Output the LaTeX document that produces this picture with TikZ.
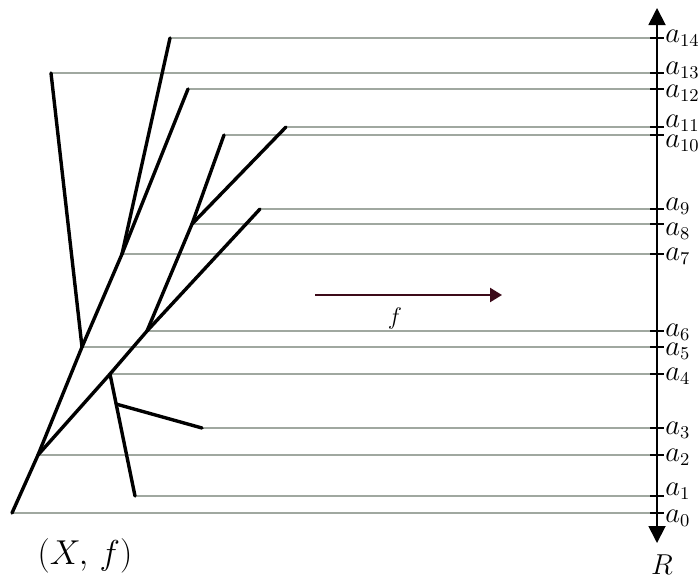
\documentclass[tikz,border=0pt]{standalone}
\usetikzlibrary{arrows.meta}
\definecolor{levelgray}{RGB}{160,168,160}
\definecolor{mapred}{RGB}{60,10,25}
\begin{document}
\begin{tikzpicture}[x=0.5pt, y=-0.5pt,
  branch/.style={line width=1.7pt, line cap=round},
  level/.style={draw=levelgray, line width=0.75pt},
  tickmark/.style={line width=0.9pt},
  lab/.style={anchor=west, inner sep=0pt, font=\fontsize{13.5}{16}\selectfont}]
  \useasboundingbox (0,0) rectangle (699,578);
  \coordinate (v0) at (12,513);
  \coordinate (v1) at (135,496);
  \coordinate (v2) at (38,455);
  \coordinate (v3) at (202,428);
  \coordinate (v4) at (110,374);
  \coordinate (v5) at (82,347);
  \coordinate (v6) at (147,331);
  \coordinate (v7) at (122,254);
  \coordinate (v8) at (192,224);
  \coordinate (v9) at (260,209);
  \coordinate (v10) at (224,135);
  \coordinate (v11) at (286,127);
  \coordinate (v12) at (188,89);
  \coordinate (v13) at (51,73);
  \coordinate (v14) at (170,38);
  \coordinate (vb) at (116,404);
  \coordinate (axtop) at (657,8);
  \coordinate (axbot) at (657,543);
  \foreach \i in {0,...,14}
    \draw[level] (v\i) -- (v\i -| axtop);
  \foreach \a/\b in {v0/v2, v2/v5, v5/v13, v5/v7, v7/v14, v7/v12, v2/v4, v4/v6,
                     v6/v9, v6/v8, v8/v10, v8/v11, v4/v1, vb/v3}
    \draw[branch] (\a) -- (\b);
  \draw[tickmark, {Triangle[length=8.5pt,width=8.5pt]}-{Triangle[length=8.5pt,width=8.5pt]}]
    (axbot) -- (axtop);
  \foreach \i/\dy in {0/5, 1/-5, 2/2, 3/2, 4/2, 5/4, 6/1, 7/2, 8/7, 9/-3, 10/8, 11/-4, 12/4, 13/-3, 14/0} {
    \draw[tickmark] (v\i -| axtop) ++(-7,0) -- ++(14,0);
    \path (v\i -| axtop) ++(8,\dy) node[lab] (l\i) {$a_{\i}$};
  }
  \node[inner sep=0pt, font=\fontsize{14}{16}\selectfont] (rlab) at (662,565) {$R$};
  \node[inner sep=0pt, font=\fontsize{16}{19}\selectfont] (xlab) at (85,556) {$(X,\,f)$};
  \coordinate (fstart) at (315,295);
  \coordinate (fend) at (502,295);
  \draw[mapred, line width=1.2pt, -{Triangle[length=6pt,width=7pt]}] (fstart) -- (fend);
  \node[font=\fontsize{13}{15}\selectfont] (flab) at (395,318) {$f$};
\end{tikzpicture}
\end{document}
